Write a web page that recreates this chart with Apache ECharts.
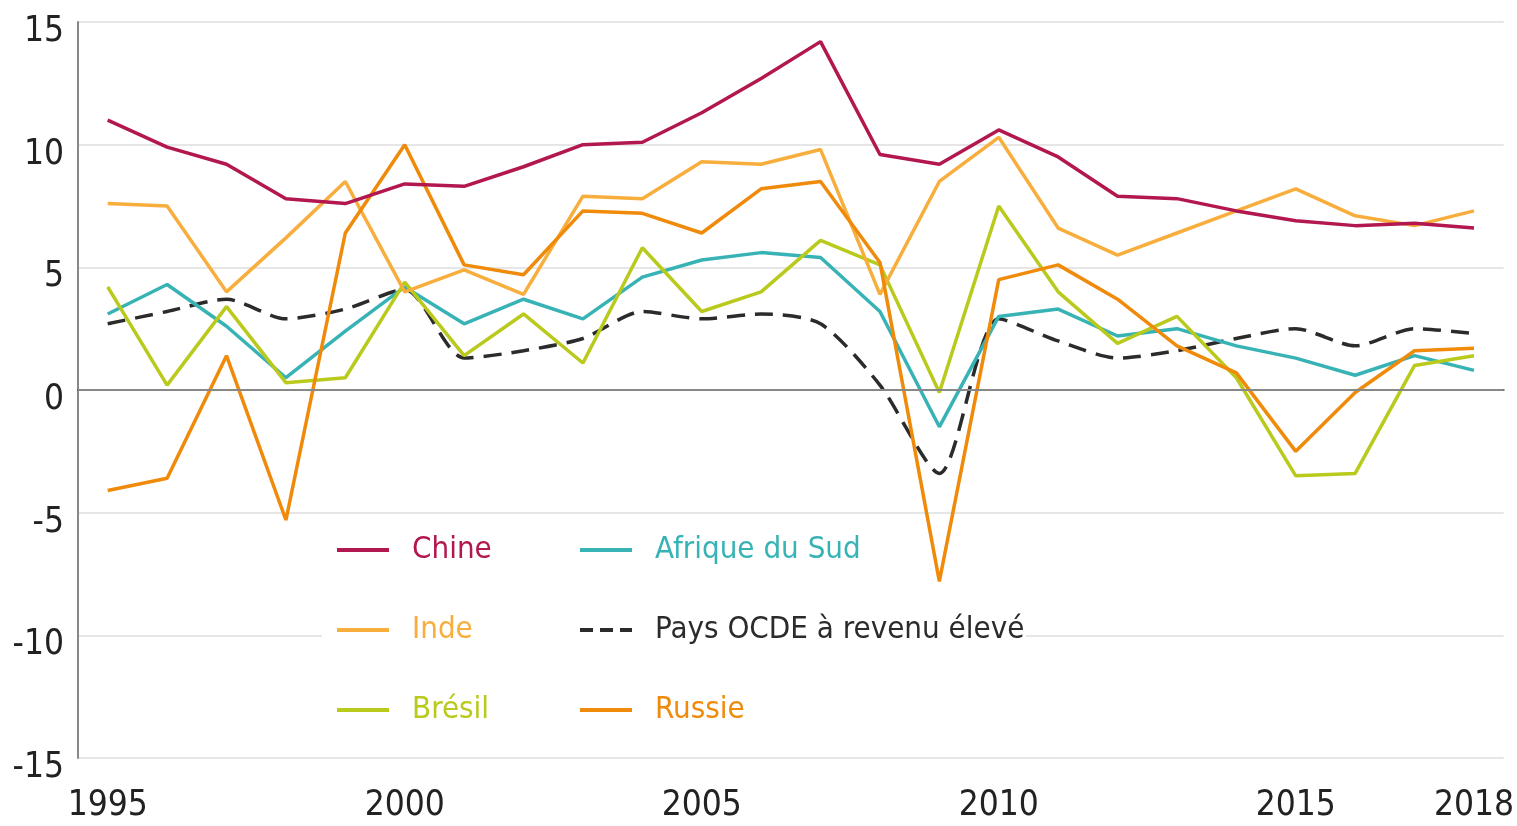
<!DOCTYPE html>
<html lang="fr">
<head>
  <meta charset="UTF-8">
  <title>Croissance</title>
  <style>
    body, html { margin: 0; padding: 0; background: #fff; }
    #main { width: 1517px; height: 826px; }
  </style>
</head>
<body>
  <div id="main"></div>
  <script src="https://cdn.jsdelivr.net/npm/echarts@6/dist/echarts.min.js"></script>
  <script>
    // données
    var years = ['1995','1996','1997','1998','1999','2000','2001','2002','2003','2004','2005','2006',
                 '2007','2008','2009','2010','2011','2012','2013','2014','2015','2016','2017','2018'];
    var shownYears = ['1995','2000','2005','2010','2015','2018'];

    var chine   = [11.0, 9.9, 9.2, 7.8, 7.6, 8.4, 8.3, 9.1, 10.0, 10.1, 11.3, 12.7, 14.2, 9.6, 9.2, 10.6, 9.5, 7.9, 7.8, 7.3, 6.9, 6.7, 6.8, 6.6];
    var inde    = [7.6, 7.5, 4.0, 6.2, 8.5, 4.0, 4.9, 3.9, 7.9, 7.8, 9.3, 9.2, 9.8, 3.9, 8.5, 10.3, 6.6, 5.5, 6.4, 7.3, 8.2, 7.1, 6.7, 7.3];
    var bresil  = [4.2, 0.2, 3.4, 0.3, 0.5, 4.4, 1.4, 3.1, 1.1, 5.8, 3.2, 4.0, 6.1, 5.1, -0.1, 7.5, 4.0, 1.9, 3.0, 0.5, -3.5, -3.4, 1.0, 1.4];
    var afrique = [3.1, 4.3, 2.6, 0.5, 2.4, 4.2, 2.7, 3.7, 2.9, 4.6, 5.3, 5.6, 5.4, 3.2, -1.5, 3.0, 3.3, 2.2, 2.5, 1.8, 1.3, 0.6, 1.4, 0.8];
    var ocde    = [2.7, 3.2, 3.7, 2.9, 3.3, 4.1, 1.3, 1.6, 2.1, 3.2, 2.9, 3.1, 2.7, 0.2, -3.4, 2.9, 2.0, 1.3, 1.6, 2.1, 2.5, 1.8, 2.5, 2.3];
    var russie  = [-4.1, -3.6, 1.4, -5.3, 6.4, 10.0, 5.1, 4.7, 7.3, 7.2, 6.4, 8.2, 8.5, 5.2, -7.8, 4.5, 5.1, 3.7, 1.8, 0.7, -2.5, -0.1, 1.6, 1.7];

    var font = "'Liberation Sans Narrow', 'DejaVu Sans Condensed', sans-serif";
    var colors = {
      'Chine': '#B3174F',
      'Inde': '#F8AE3C',
      'Brésil': '#B9CA1C',
      'Afrique du Sud': '#38B3B5',
      'Pays OCDE à revenu élevé': '#2b2b2b',
      'Russie': '#EF8A0A'
    };

    function legendItem(name) {
      var item = { name: name, textStyle: { color: colors[name] }, lineStyle: { width: 4 } };
      if (name === 'Pays OCDE à revenu élevé') item.lineStyle = { width: 4, type: [13, 7] };
      return item;
    }

    function lineSeries(name, data, extra) {
      var s = {
        name: name,
        type: 'line',
        data: data,
        symbol: 'none',
        lineStyle: { color: colors[name], width: 3.5 },
        itemStyle: { color: colors[name] }
      };
      for (var k in extra) s[k] = extra[k];
      return s;
    }

    var legendBase = {
      orient: 'vertical',
      top: 531,
      padding: 0,
      itemWidth: 52,
      itemHeight: 14,
      itemGap: 42,
      selectedMode: false,
      itemStyle: { opacity: 0 },   // pas de rond sur l'icône, juste le trait
      lineStyle: { width: 4 },
      textStyle: { fontFamily: font, fontSize: 31, lineHeight: 38, padding: [0, 0, 0, 18] }
    };

    var myChart = echarts.init(document.getElementById('main'));
    var option = {
      animation: false,
      grid: { left: 78, right: 12, top: 22, bottom: 68 },
      legend: [
        Object.assign({}, legendBase, {
          left: 335,
          data: ['Chine', 'Inde', 'Brésil'].map(legendItem)
        }),
        Object.assign({}, legendBase, {
          left: 578,
          data: ['Afrique du Sud', 'Pays OCDE à revenu élevé', 'Russie'].map(legendItem)
        })
      ],
      // fond blanc de la légende : masque les lignes de grille, pas les courbes
      graphic: [{
        type: 'rect',
        z: 1,
        shape: { x: 322, y: 522, width: 704, height: 222 },
        style: { fill: '#fff' }
      }],
      xAxis: {
        type: 'category',
        data: years,
        boundaryGap: true,
        axisLine: { lineStyle: { color: '#555', width: 2 } },
        axisTick: { show: false },
        axisLabel: {
          interval: function (i, v) { return shownYears.indexOf(v) >= 0; },
          color: '#222',
          fontFamily: font,
          fontSize: 35,
          margin: 30
        }
      },
      yAxis: {
        type: 'value',
        min: -15,
        max: 15,
        interval: 5,
        axisLine: { show: true, lineStyle: { color: '#888', width: 2 } },
        axisTick: { show: false },
        axisLabel: {
          margin: 14,
          formatter: '{v|{value}}',
          rich: {
            v: { color: '#222', fontFamily: font, fontSize: 35, padding: [20, 0, 0, 0] }
          }
        },
        splitLine: { lineStyle: { color: '#e6e6e6', width: 2 } }
      },
      series: [
        lineSeries('Pays OCDE à revenu élevé', ocde, {
          smooth: 0.25,
          lineStyle: { color: colors['Pays OCDE à revenu élevé'], width: 3.5, type: [18, 10] },
          markLine: {
            silent: true,
            symbol: 'none',
            label: { show: false },
            lineStyle: { color: '#888', width: 2, type: 'solid' },
            data: [{ yAxis: 0 }]
          }
        }),
        lineSeries('Afrique du Sud', afrique),
        lineSeries('Brésil', bresil),
        lineSeries('Inde', inde),
        lineSeries('Russie', russie),
        lineSeries('Chine', chine)
      ]
    };
    myChart.setOption(option);
  </script>
</body>
</html>
